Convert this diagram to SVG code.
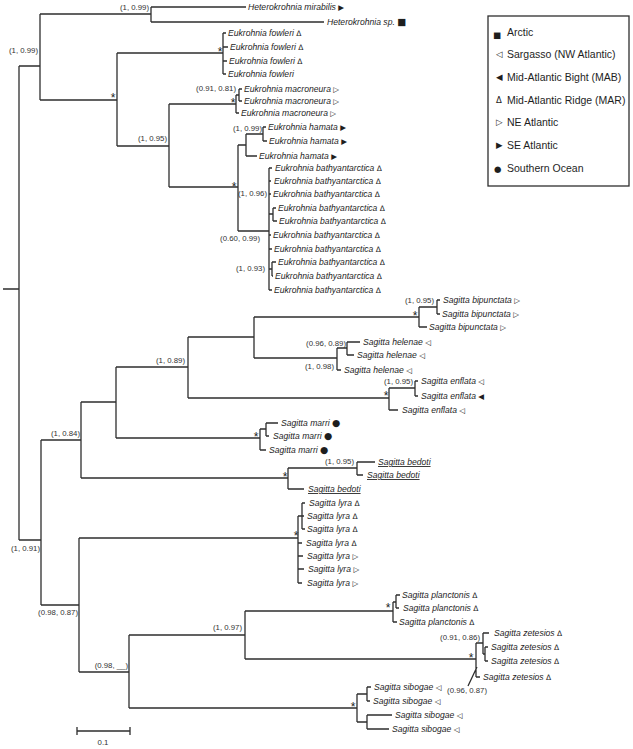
<svg xmlns="http://www.w3.org/2000/svg" width="633" height="749" viewBox="0 0 633 749">
<style>
.br{fill:none;stroke:#2e2e2e;stroke-width:1.3}
.sp{font-family:"Liberation Sans",Arial,sans-serif;font-style:italic;font-size:8.6px;fill:#1e1e1e}
.u{text-decoration:underline}
.nl{font-family:"Liberation Sans",Arial,sans-serif;font-size:7.8px;fill:#333}
.st{font-family:"Liberation Sans",Arial,sans-serif;font-size:12px;fill:#222;text-anchor:middle}
.sy{font-family:"DejaVu Sans",sans-serif;font-style:normal;font-size:7.5px}
.sb{font-family:"DejaVu Sans",sans-serif;font-style:normal;font-size:9.5px}
.lg{font-family:"Liberation Sans",Arial,sans-serif;font-size:10.5px;fill:#1e1e1e}
.ls{font-family:"DejaVu Sans",sans-serif;font-size:8.5px;fill:#1e1e1e}
</style>
<rect width="633" height="749" fill="#fff"/>
<g id="connectors" class="br">
<path d="M3,289H19M19,66V540M19,66H40M40,14V100M40,14H151M151,7V22M151,7H246M151,22H324"/>
<path d="M40,100H117M117,53V146M117,53H223M223,33V74M223,33H226M223,47H228M223,61H227M223,74H226"/>
<path d="M117,146H169M169,104V187M169,104H236M236,95V113M236,95H239M239,89V101M239,89H242M239,101H242M236,113H239"/>
<path d="M169,187H238M238,145V231M238,145H246M246,134V156M246,134H263M263,127V141M263,127H266M263,141H267M246,156H257"/>
<path d="M238,231H269M269,168V290M269,168H272M269,181H271M269,194H271M269,214H273M273,208V221M273,208H276M273,221H277M269,235H271M269,249H272M269,269H272M272,262V276M272,262H276M272,276H273M269,290H272"/>
<path d="M19,540H41M41,440V605M41,440H81M81,402V478M81,402H116M116,367V438M116,367H188M188,337V398M188,337H254M254,317V358"/>
<path d="M254,317H419M419,307V327M419,307H437M437,300V314M437,300H440M437,314H440M419,327H427"/>
<path d="M254,358H337M337,348V370M337,348H347M347,342V355M347,342H360M347,355H354M337,370H341"/>
<path d="M188,398H389M389,388V410M389,388H415M415,381V396M415,381H418M415,396H418M389,410H398"/>
<path d="M116,438H260M260,429V450M260,429H266M266,423V436M266,423H278M266,436H269M260,450H266"/>
<path d="M81,478H288M288,468V489M288,468H357M357,462V475M357,462H375M357,475H363M288,489H304"/>
<path d="M41,605H79M79,538V672M79,538H298M298,516V583M298,516H304M302,503V529M302,503H305M302,529H305M298,543H302M298,556H303M298,569H304M298,583H302"/>
<path d="M79,672H129M129,635V708M129,635H245M245,611V659M245,611H393M393,602V622M393,602H396M396,595V608M396,595H400M396,608H399M393,622H397"/>
<path d="M245,659H476M476,643V677M476,643H483M483,633V654M483,654H485M485,647V661M483,633H489M485,647H488M485,661H488M476,677H480M468,686L477,667"/>
<path d="M129,708H357M357,694V722M357,694H367M367,687V701M367,687H371M367,701H370M357,722H367M367,715V729M367,715H392M367,729H389"/>
</g>
<g id="leaves" class="sp">
<g id="n-hmir"><text x="248" y="10">Heterokrohnia mirabilis <tspan class="sy">▶</tspan></text></g>
<g id="n-hsp"><text x="327" y="25">Heterokrohnia sp. <tspan class="sb">■</tspan></text></g>
<g id="n-fow1"><text x="228" y="36">Eukrohnia fowleri <tspan class="sy">Δ</tspan></text></g>
<g id="n-fow2"><text x="230" y="50">Eukrohnia fowleri <tspan class="sy">Δ</tspan></text></g>
<g id="n-fow3"><text x="229" y="64">Eukrohnia fowleri <tspan class="sy">Δ</tspan></text></g>
<g id="n-fow4"><text x="228" y="77">Eukrohnia fowleri</text></g>
<g id="n-mac1"><text x="244" y="92">Eukrohnia macroneura <tspan class="sy">▷</tspan></text></g>
<g id="n-mac2"><text x="244" y="104">Eukrohnia macroneura <tspan class="sy">▷</tspan></text></g>
<g id="n-mac3"><text x="241" y="116">Eukrohnia macroneura <tspan class="sy">▷</tspan></text></g>
<g id="n-ham1"><text x="268" y="130">Eukrohnia hamata <tspan class="sy">▶</tspan></text></g>
<g id="n-ham2"><text x="269" y="144">Eukrohnia hamata <tspan class="sy">▶</tspan></text></g>
<g id="n-ham3"><text x="259" y="159">Eukrohnia hamata <tspan class="sy">▶</tspan></text></g>
<g id="n-bat1"><text x="275" y="171">Eukrohnia bathyantarctica <tspan class="sy">Δ</tspan></text></g>
<g id="n-bat2"><text x="274" y="184">Eukrohnia bathyantarctica <tspan class="sy">Δ</tspan></text></g>
<g id="n-bat3"><text x="273" y="197">Eukrohnia bathyantarctica <tspan class="sy">Δ</tspan></text></g>
<g id="n-bat4"><text x="278" y="211">Eukrohnia bathyantarctica <tspan class="sy">Δ</tspan></text></g>
<g id="n-bat5"><text x="279" y="224">Eukrohnia bathyantarctica <tspan class="sy">Δ</tspan></text></g>
<g id="n-bat6"><text x="273" y="238">Eukrohnia bathyantarctica <tspan class="sy">Δ</tspan></text></g>
<g id="n-bat7"><text x="274" y="252">Eukrohnia bathyantarctica <tspan class="sy">Δ</tspan></text></g>
<g id="n-bat8"><text x="278" y="265">Eukrohnia bathyantarctica <tspan class="sy">Δ</tspan></text></g>
<g id="n-bat9"><text x="275" y="279">Eukrohnia bathyantarctica <tspan class="sy">Δ</tspan></text></g>
<g id="n-bat10"><text x="274" y="293">Eukrohnia bathyantarctica <tspan class="sy">Δ</tspan></text></g>
<g id="n-bip1"><text x="443" y="303">Sagitta bipunctata <tspan class="sy">▷</tspan></text></g>
<g id="n-bip2"><text x="442" y="317">Sagitta bipunctata <tspan class="sy">▷</tspan></text></g>
<g id="n-bip3"><text x="429" y="330">Sagitta bipunctata <tspan class="sy">▷</tspan></text></g>
<g id="n-hel1"><text x="363" y="345">Sagitta helenae <tspan class="sy">◁</tspan></text></g>
<g id="n-hel2"><text x="357" y="358">Sagitta helenae <tspan class="sy">◁</tspan></text></g>
<g id="n-hel3"><text x="344" y="373">Sagitta helenae <tspan class="sy">◁</tspan></text></g>
<g id="n-enf1"><text x="421" y="384">Sagitta enflata <tspan class="sy">◁</tspan></text></g>
<g id="n-enf2"><text x="421" y="399">Sagitta enflata <tspan class="sy">◀</tspan></text></g>
<g id="n-enf3"><text x="402" y="413">Sagitta enflata <tspan class="sy">◁</tspan></text></g>
<g id="n-mar1"><text x="281" y="426">Sagitta marri <tspan class="sb">●</tspan></text></g>
<g id="n-mar2"><text x="273" y="439">Sagitta marri <tspan class="sb">●</tspan></text></g>
<g id="n-mar3"><text x="269" y="453">Sagitta marri <tspan class="sb">●</tspan></text></g>
<g id="n-bed1"><text class="u" x="378" y="465">Sagitta bedoti</text></g>
<g id="n-bed2"><text class="u" x="367" y="478">Sagitta bedoti</text></g>
<g id="n-bed3"><text class="u" x="308" y="492">Sagitta bedoti</text></g>
<g id="n-lyr1"><text x="309" y="506">Sagitta lyra <tspan class="sy">Δ</tspan></text></g>
<g id="n-lyr2"><text x="307" y="519">Sagitta lyra <tspan class="sy">Δ</tspan></text></g>
<g id="n-lyr3"><text x="307" y="532">Sagitta lyra <tspan class="sy">Δ</tspan></text></g>
<g id="n-lyr4"><text x="306" y="546">Sagitta lyra <tspan class="sy">Δ</tspan></text></g>
<g id="n-lyr5"><text x="307" y="559">Sagitta lyra <tspan class="sy">▷</tspan></text></g>
<g id="n-lyr6"><text x="308" y="572">Sagitta lyra <tspan class="sy">▷</tspan></text></g>
<g id="n-lyr7"><text x="307" y="586">Sagitta lyra <tspan class="sy">▷</tspan></text></g>
<g id="n-pla1"><text x="402" y="598">Sagitta planctonis <tspan class="sy">Δ</tspan></text></g>
<g id="n-pla2"><text x="403" y="611">Sagitta planctonis <tspan class="sy">Δ</tspan></text></g>
<g id="n-pla3"><text x="399" y="625">Sagitta planctonis <tspan class="sy">Δ</tspan></text></g>
<g id="n-zet1"><text x="494" y="636">Sagitta zetesios <tspan class="sy">Δ</tspan></text></g>
<g id="n-zet2"><text x="491" y="650">Sagitta zetesios <tspan class="sy">Δ</tspan></text></g>
<g id="n-zet3"><text x="491" y="664">Sagitta zetesios <tspan class="sy">Δ</tspan></text></g>
<g id="n-zet4"><text x="483" y="680">Sagitta zetesios <tspan class="sy">Δ</tspan></text></g>
<g id="n-sib1"><text x="374" y="690">Sagitta sibogae <tspan class="sy">◁</tspan></text></g>
<g id="n-sib2"><text x="373" y="704">Sagitta sibogae <tspan class="sy">◁</tspan></text></g>
<g id="n-sib3"><text x="395" y="718">Sagitta sibogae <tspan class="sy">◁</tspan></text></g>
<g id="n-sib4"><text x="392" y="732">Sagitta sibogae <tspan class="sy">◁</tspan></text></g>
</g>
<g id="support" class="nl" text-anchor="end">
<text x="38" y="53">(1, 0.99)</text>
<text x="149" y="10">(1, 0.99)</text>
<text x="236" y="91">(0.91, 0.81)</text>
<text x="167" y="141">(1, 0.95)</text>
<text x="262" y="131">(1, 0.99)</text>
<text x="267" y="196">(1, 0.96)</text>
<text x="260" y="241">(0.60, 0.99)</text>
<text x="265" y="271">(1, 0.93)</text>
<text x="434" y="303">(1, 0.95)</text>
<text x="346" y="346">(0.96, 0.89)</text>
<text x="334" y="369">(1, 0.98)</text>
<text x="413" y="384">(1, 0.95)</text>
<text x="185" y="363">(1, 0.89)</text>
<text x="80" y="436">(1, 0.84)</text>
<text x="354" y="464">(1, 0.95)</text>
<text x="40" y="551">(1, 0.91)</text>
<text x="78" y="615">(0.98, 0.87)</text>
<text x="128" y="668">(0.98, __)</text>
<text x="242" y="630">(1, 0.97)</text>
<text x="480" y="640">(0.91, 0.86)</text>
<text x="487" y="693">(0.96, 0.87)</text>
</g>
<g id="stars" class="st">
<text x="113" y="102">*</text>
<text x="220" y="56">*</text>
<text x="233" y="107">*</text>
<text x="234" y="191">*</text>
<text x="415" y="320">*</text>
<text x="386" y="400">*</text>
<text x="256" y="441">*</text>
<text x="285" y="481">*</text>
<text x="296" y="540">*</text>
<text x="388" y="612">*</text>
<text x="471" y="662">*</text>
<text x="353" y="711">*</text>
</g>
<g id="scalebar">
<path class="br" d="M77,731H130M77,727V735M130,727V735"/>
<text class="nl" x="103" y="745" text-anchor="middle">0.1</text>
</g>
<g id="legend">
<rect x="488" y="16" width="141" height="170" fill="#fff" stroke="#2e2e2e" stroke-width="1.3"/>
<text class="ls" x="493" y="38" font-size="15">■</text>
<text class="ls" x="496" y="57">◁</text>
<text class="ls" x="496" y="80">◀</text>
<text class="ls" x="496" y="103">Δ</text>
<text class="ls" x="496" y="125">▷</text>
<text class="ls" x="496" y="148">▶</text>
<text class="ls" x="494" y="172" font-size="11">●</text>
<text class="lg" x="507" y="36">Arctic</text>
<text class="lg" x="507" y="58">Sargasso (NW Atlantic)</text>
<text class="lg" x="507" y="81">Mid-Atlantic Bight (MAB)</text>
<text class="lg" x="507" y="104">Mid-Atlantic Ridge (MAR)</text>
<text class="lg" x="507" y="126">NE Atlantic</text>
<text class="lg" x="507" y="149">SE Atlantic</text>
<text class="lg" x="507" y="172">Southern Ocean</text>
</g>
</svg>
